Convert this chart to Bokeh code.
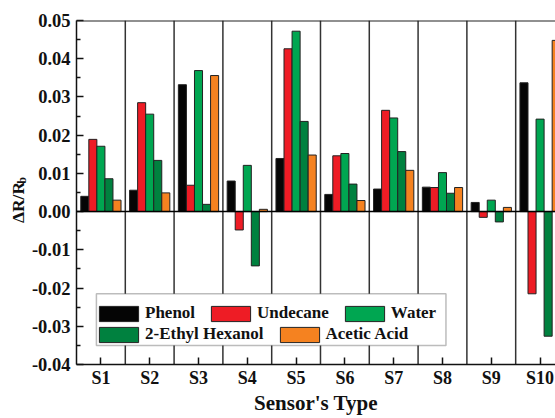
import math
from bokeh.plotting import figure
from bokeh.layouts import row
from bokeh.models import (ColumnDataSource, Range1d, FixedTicker, Span,
                          Legend, LegendItem, BoxAnnotation, PrintfTickFormatter)
from bokeh.transform import dodge
from bokeh.embed import file_html
from bokeh.resources import INLINE

# ---------------- data ----------------
sensors = ["S1", "S2", "S3", "S4", "S5", "S6", "S7", "S8", "S9", "S10"]
phenol = [0.0040, 0.0056, 0.0332, 0.0080, 0.0139, 0.0045, 0.0059, 0.0064, 0.0024, 0.0337]
undecane = [0.0189, 0.0285, 0.0069, -0.0048, 0.0426, 0.0146, 0.0265, 0.0063, -0.0015, -0.0215]
water = [0.0171, 0.0255, 0.0369, 0.0121, 0.0472, 0.0152, 0.0245, 0.0102, 0.0030, 0.0242]
ethyl_hexanol = [0.0086, 0.0134, 0.0019, -0.0142, 0.0236, 0.0072, 0.0157, 0.0048, -0.0027, -0.0326]
acetic_acid = [0.0030, 0.0049, 0.0356, 0.0006, 0.0148, 0.0029, 0.0108, 0.0063, 0.0011, 0.0448]
y_ticks = [-0.04, -0.03, -0.02, -0.01, 0.00, 0.01, 0.02, 0.03, 0.04, 0.05]
y_minor = [-0.035, -0.025, -0.015, -0.005, 0.005, 0.015, 0.025, 0.035, 0.045]

series = [
    ("Phenol", "phenol", "#050505"),
    ("Undecane", "undecane", "#ee1c25"),
    ("Water", "water", "#00a651"),
    ("2-Ethyl Hexanol", "ethyl", "#00813f"),
    ("Acetic Acid", "acetic", "#f58220"),
]

xs = list(range(1, len(sensors) + 1))
src = ColumnDataSource(dict(x=xs, phenol=phenol, undecane=undecane, water=water,
                            ethyl=ethyl_hexanol, acetic=acetic_acid))

FONT = "Liberation Serif"
H = 418
TOP, BOTTOM = 20, 54
FH = H - TOP - BOTTOM   # frame height in px
LW = 28                 # width of the strip holding the y-axis title
MW = 555 - LW           # main figure width

# ---------- strip with the y-axis title (ΔR/R with subscript b) ----------
t = figure(width=LW, height=H, output_backend="svg", toolbar_location=None,
           x_range=Range1d(0, LW), y_range=Range1d(0, FH),
           x_axis_location=None, y_axis_location=None,
           min_border_left=0, min_border_right=0,
           min_border_top=TOP, min_border_bottom=BOTTOM)
t.outline_line_color = None
t.xgrid.visible = False
t.ygrid.visible = False
t.text(x=[17], y=[162], text=["ΔR/R"], angle=math.pi / 2,
       text_align="center", text_baseline="middle", text_font={"value": FONT},
       text_font_style="bold", text_font_size="17.5px", text_color="#111111")
t.text(x=[21.5], y=[184], text=["b"], angle=math.pi / 2,
       text_align="center", text_baseline="middle", text_font={"value": FONT},
       text_font_style="bold", text_font_size="12px", text_color="#111111")

# ---------- main chart ----------
p = figure(width=MW, height=H, output_backend="svg", toolbar_location=None,
           x_range=Range1d(0.5, 10.316), y_range=Range1d(-0.04, 0.05),
           min_border_left=74 - LW, min_border_top=TOP, min_border_bottom=BOTTOM,
           min_border_right=0)
p.outline_line_color = None
p.xgrid.visible = False
p.ygrid.visible = False
p.background_fill_color = "white"

# separators between sensors
for i in range(1, len(sensors)):
    p.add_layout(Span(location=xs[i - 1] + 0.5, dimension="height",
                      line_color="#333333", line_width=1.5, level="underlay"))

bw = 0.165
renderers = []
for k, (lab, col, colr) in enumerate(series):
    off = (k - 2) * bw
    r = p.vbar(x=dodge("x", off, range=p.x_range), top=col, bottom=0, width=bw,
               source=src, fill_color=colr, line_color="#222222", line_width=1)
    renderers.append(r)

p.add_layout(Span(location=0, dimension="width", line_color="black", line_width=1.5))
p.add_layout(Span(location=0.05, dimension="width", line_color="#222222", line_width=2))

# axes
p.xaxis.ticker = FixedTicker(ticks=xs)
p.xaxis.major_label_overrides = {x: s for x, s in zip(xs, sensors)}
p.yaxis.ticker = FixedTicker(ticks=y_ticks, minor_ticks=y_minor)
p.yaxis.formatter = PrintfTickFormatter(format="%.2f")
for ax in (p.xaxis[0], p.yaxis[0]):
    ax.axis_line_width = 1.5
    ax.axis_line_color = "#111111"
    ax.major_tick_in = 7
    ax.major_tick_out = 0
    ax.major_tick_line_width = 1.5
    ax.major_tick_line_color = "#111111"
    ax.major_label_text_font = FONT
    ax.major_label_text_font_style = "bold"
    ax.major_label_text_color = "#111111"
p.xaxis.major_label_text_font_size = "18px"
p.yaxis.major_label_text_font_size = "18.5px"
p.xaxis.minor_tick_line_color = None
p.yaxis.minor_tick_in = 4
p.yaxis.minor_tick_out = 0
p.yaxis.minor_tick_line_width = 1.5
p.yaxis.minor_tick_line_color = "#111111"
p.yaxis.major_label_standoff = 6
p.xaxis.major_label_standoff = 3

p.xaxis.axis_label = "Sensor's Type"
p.xaxis.axis_label_text_font = FONT
p.xaxis.axis_label_text_font_style = "bold"
p.xaxis.axis_label_text_font_size = "21px"
p.xaxis.axis_label_text_color = "#111111"
p.xaxis.axis_label_standoff = 0

# legend box + two flow rows
p.add_layout(BoxAnnotation(left=0.908, right=8.071, top=-0.0215, bottom=-0.0350,
                           fill_color="white", fill_alpha=1.0, line_color="#222222",
                           line_width=1.5))
legend_style = dict(orientation="horizontal", padding=0, margin=0, spacing=11,
                    border_line_color=None, background_fill_alpha=0,
                    label_standoff=2, glyph_width=49, glyph_height=19, label_height=19,
                    label_text_font=FONT, label_text_font_style="bold",
                    label_text_font_size="17px", label_text_color="#111111")
row1 = Legend(items=[LegendItem(label=series[i][0], renderers=[renderers[i]]) for i in (0, 1, 2)],
              location=(18, 41), **legend_style)
row2 = Legend(items=[LegendItem(label=series[i][0], renderers=[renderers[i]]) for i in (3, 4)],
              location=(18, 20), **legend_style)
p.add_layout(row1)
p.add_layout(row2)

layout = row(t, p, spacing=0)
open("out.html", "w").write(file_html(layout, INLINE))
